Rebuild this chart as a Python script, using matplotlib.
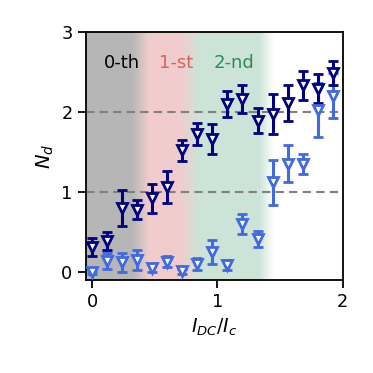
import numpy as np
import matplotlib
matplotlib.use("Agg")
import matplotlib.pyplot as plt

# Data
x_vals = [0.0, 0.12, 0.24, 0.36, 0.48, 0.60, 0.72, 0.84, 0.96, 1.08, 1.20, 1.32, 1.44, 1.56, 1.68, 1.80, 1.92]
dark_y = [0.31, 0.39, 0.80, 0.78, 0.92, 1.06, 1.52, 1.72, 1.66, 2.10, 2.16, 1.89, 1.97, 2.11, 2.33, 2.29, 2.48]
dark_err = [0.11, 0.11, 0.23, 0.12, 0.18, 0.20, 0.13, 0.14, 0.19, 0.16, 0.17, 0.16, 0.25, 0.22, 0.18, 0.18, 0.15]
light_y = [0.00, 0.14, 0.12, 0.15, 0.05, 0.13, 0.01, 0.10, 0.25, 0.09, 0.60, 0.41, 1.12, 1.35, 1.35, 2.02, 2.20]
light_err = [0.02, 0.10, 0.12, 0.12, 0.05, 0.07, 0.03, 0.07, 0.15, 0.06, 0.13, 0.10, 0.28, 0.23, 0.13, 0.34, 0.28]
region_labels = ["0-th", "1-st", "2-nd"]
region_label_x = [0.24, 0.67, 1.13]
region_colors = ["black", "#d9615e", "#2e8b57"]

fig = plt.figure(figsize=(3.73, 3.73), dpi=100)
ax = fig.add_axes([0.23, 0.249, 0.689, 0.666])

xmin, xmax = -0.05, 2.0
ymin, ymax = -0.1, 3.0

# background gradient
gray = np.array([0.715, 0.715, 0.715])
pink = np.array([0.945, 0.80, 0.80])
green = np.array([0.80, 0.895, 0.845])
white = np.array([1.0, 1.0, 1.0])
xs = np.linspace(xmin, xmax, 800)
stops = [(xmin, gray), (0.32, gray), (0.45, pink), (0.70, pink), (0.86, green),
         (1.33, green), (1.45, white), (xmax, white)]
def col(x):
    for (x0, c0), (x1, c1) in zip(stops[:-1], stops[1:]):
        if x0 <= x <= x1:
            t = 0 if x1 == x0 else (x - x0) / (x1 - x0)
            return c0 * (1 - t) + c1 * t
    return white
img = np.array([col(v) for v in xs])[None, :, :]
ax.imshow(img, extent=[xmin, xmax, ymin, ymax], aspect="auto", zorder=0, interpolation="bilinear")

for yl in [1, 2]:
    ax.axhline(yl, color="gray", lw=1.5, ls=(0, (4, 2.5)), zorder=1)

ekw = dict(fmt="v", ms=7, mfc="white", mew=2.0, elinewidth=2.2, capsize=3.3, capthick=2.2, ls="none", zorder=3)
ax.errorbar(x_vals, light_y, yerr=light_err, color="#4169e1", **ekw)
ax.errorbar(x_vals, dark_y, yerr=dark_err, color="#000080", **ekw)

for lab, lx, c in zip(region_labels, region_label_x, region_colors):
    ax.text(lx, 2.61, lab, color=c, fontsize=13, ha="center", va="center", zorder=4)

ax.set_xlim(xmin, xmax)
ax.set_ylim(ymin, ymax)
ax.set_xticks([0, 1, 2])
ax.set_yticks([0, 1, 2, 3])
ax.tick_params(labelsize=12.8, length=6, width=1.3)
for s in ax.spines.values():
    s.set_linewidth(1.3)
ax.set_xlabel("$I_{DC}/I_c$", fontsize=13.5)
ax.set_ylabel("$N_d$", fontsize=14)

fig.savefig("out.png", dpi=100)
